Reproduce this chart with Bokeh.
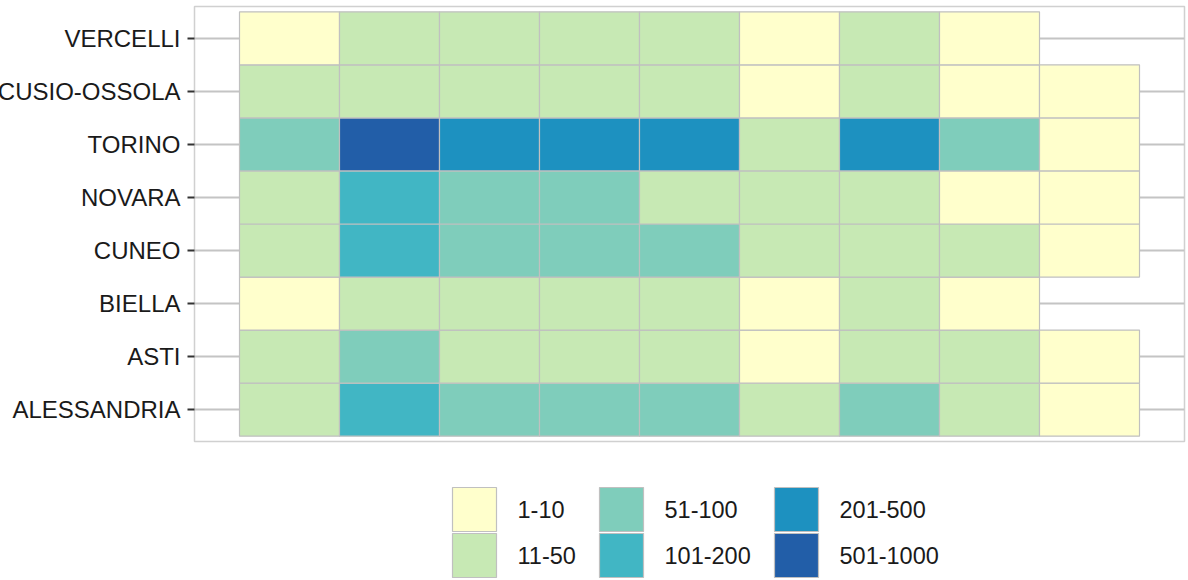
from bokeh.plotting import figure
from bokeh.models import ColumnDataSource, Range1d, FactorRange, GlobalInlineStyleSheet
from bokeh.transform import factor_cmap
from bokeh.layouts import column
from bokeh.core.properties import value
from bokeh.embed import file_html
from bokeh.resources import INLINE

# ---------------- data ----------------
# provinces, bottom to top
provinces = ["ALESSANDRIA", "ASTI", "BIELLA", "CUNEO", "NOVARA", "TORINO",
             "VERBANO-CUSIO-OSSOLA", "VERCELLI"]
classes = ["1-10", "11-50", "51-100", "101-200", "201-500", "501-1000"]
palette = ["#ffffcc", "#c7e9b4", "#7fcdbb", "#41b6c4", "#1d91c0", "#225ea8"]

# class of each of the 9 columns (None = no tile)
alessandria = ["11-50", "101-200", "51-100", "51-100", "51-100", "11-50", "51-100", "11-50", "1-10"]
asti        = ["11-50", "51-100", "11-50", "11-50", "11-50", "1-10", "11-50", "11-50", "1-10"]
biella      = ["1-10", "11-50", "11-50", "11-50", "11-50", "1-10", "11-50", "1-10", None]
cuneo       = ["11-50", "101-200", "51-100", "51-100", "51-100", "11-50", "11-50", "11-50", "1-10"]
novara      = ["11-50", "101-200", "51-100", "51-100", "11-50", "11-50", "11-50", "1-10", "1-10"]
torino      = ["51-100", "501-1000", "201-500", "201-500", "201-500", "11-50", "201-500", "51-100", "1-10"]
vco         = ["11-50", "11-50", "11-50", "11-50", "11-50", "1-10", "11-50", "1-10", "1-10"]
vercelli    = ["1-10", "11-50", "11-50", "11-50", "11-50", "1-10", "11-50", "1-10", None]
grid_rows = [alessandria, asti, biella, cuneo, novara, torino, vco, vercelli]

# ---------------- styles / layout ----------------
FONT = "Liberation Sans"
AXIS_FS = "24px"
LEG_FS = "23.5px"
TEXT_COLOR = "#1a1a1a"
TILE_LINE = "#c0c0c0"
W = 1188
SHIFT = 150                 # canvas part hidden to the left (long axis label is cut, as in the original)
FRAME_LEFT = 194            # on-screen left edge of the panel
BORDER_L = FRAME_LEFT + SHIFT
BORDER_R = 4

xs, ys, cls = [], [], []
for prov, vals in zip(provinces, grid_rows):
    for c, v in enumerate(vals, start=1):
        if v is not None:
            xs.append(c)
            ys.append(prov)
            cls.append(v)
src = ColumnDataSource(dict(x=xs, y=ys, cls=cls))

ncol = len(grid_rows[0])
xpad = 0.05 * ncol
p = figure(width=W + SHIFT, height=446, output_backend="svg", toolbar_location=None,
           x_range=Range1d(0.5 - xpad, ncol + 0.5 + xpad),
           y_range=FactorRange(factors=provinces, range_padding=0.1, range_padding_units="absolute"),
           x_axis_location=None,
           min_border_left=BORDER_L, min_border_right=BORDER_R, min_border_top=6, min_border_bottom=5)
p.background_fill_color = "white"
p.border_fill_color = "white"
p.rect(x="x", y="y", width=1, height=1, source=src,
       fill_color=factor_cmap("cls", palette, classes),
       line_color=TILE_LINE, line_width=1.2)

p.yaxis.axis_line_color = None
p.yaxis.major_tick_line_color = "#333333"
p.yaxis.major_tick_line_width = 2
p.yaxis.major_tick_out = 7
p.yaxis.major_tick_in = 0
p.yaxis.minor_tick_line_color = None
p.yaxis.major_label_standoff = 7
p.yaxis.major_label_text_font = FONT
p.yaxis.major_label_text_font_size = AXIS_FS
p.yaxis.major_label_text_color = TEXT_COLOR
p.xgrid.visible = False
p.ygrid.grid_line_color = "#c4c4c4"
p.ygrid.grid_line_width = 2
p.outline_line_color = "#d0d0d0"
p.outline_line_width = 1.5

# ---------------- legend (3 columns x 2 rows) ----------------
LEG_H = 134
leg = figure(width=W + SHIFT, height=LEG_H, output_backend="svg", toolbar_location=None,
             x_range=Range1d(FRAME_LEFT, W - BORDER_R), y_range=Range1d(LEG_H, 0),
             x_axis_location=None, y_axis_location=None,
             min_border_left=BORDER_L, min_border_right=BORDER_R, min_border_top=0, min_border_bottom=0)
leg.outline_line_color = None
leg.xgrid.visible = False
leg.ygrid.visible = False
leg.background_fill_color = "white"
leg.border_fill_color = "white"

key = 44
pitch_y = 46
top = 41
left0 = 452
label_gap = 21
col_base = 77
char_w = 14
legend_cols = [classes[i:i + 2] for i in range(0, len(classes), 2)]
col_lefts = []
left = left0
for labs in legend_cols:
    col_lefts.append(left)
    left += col_base + char_w * max(len(s) for s in labs)

kx, ky, kc, tx, tl = [], [], [], [], []
for i, lab in enumerate(classes):
    c, r = divmod(i, 2)
    kx.append(col_lefts[c] + key / 2)
    ky.append(top + key / 2 + r * pitch_y)
    kc.append(palette[i])
    tx.append(col_lefts[c] + key + label_gap)
    tl.append(lab)
lsrc = ColumnDataSource(dict(kx=kx, ky=ky, kc=kc, tx=tx, tl=tl))
leg.rect(x="kx", y="ky", width=key, height=key, source=lsrc,
         fill_color="kc", line_color=TILE_LINE, line_width=1.2)
leg.text(x="tx", y="ky", text="tl", source=lsrc, text_align="left", text_baseline="middle",
         text_font=value(FONT), text_font_size=LEG_FS, text_color=TEXT_COLOR)

layout = column(p, leg, spacing=0)
layout.styles = {"margin-left": f"-{SHIFT}px"}
layout.stylesheets = [GlobalInlineStyleSheet(css="html, body { margin: 0; padding: 0; overflow: hidden; }")]

open("out.html", "w").write(file_html(layout, INLINE))
